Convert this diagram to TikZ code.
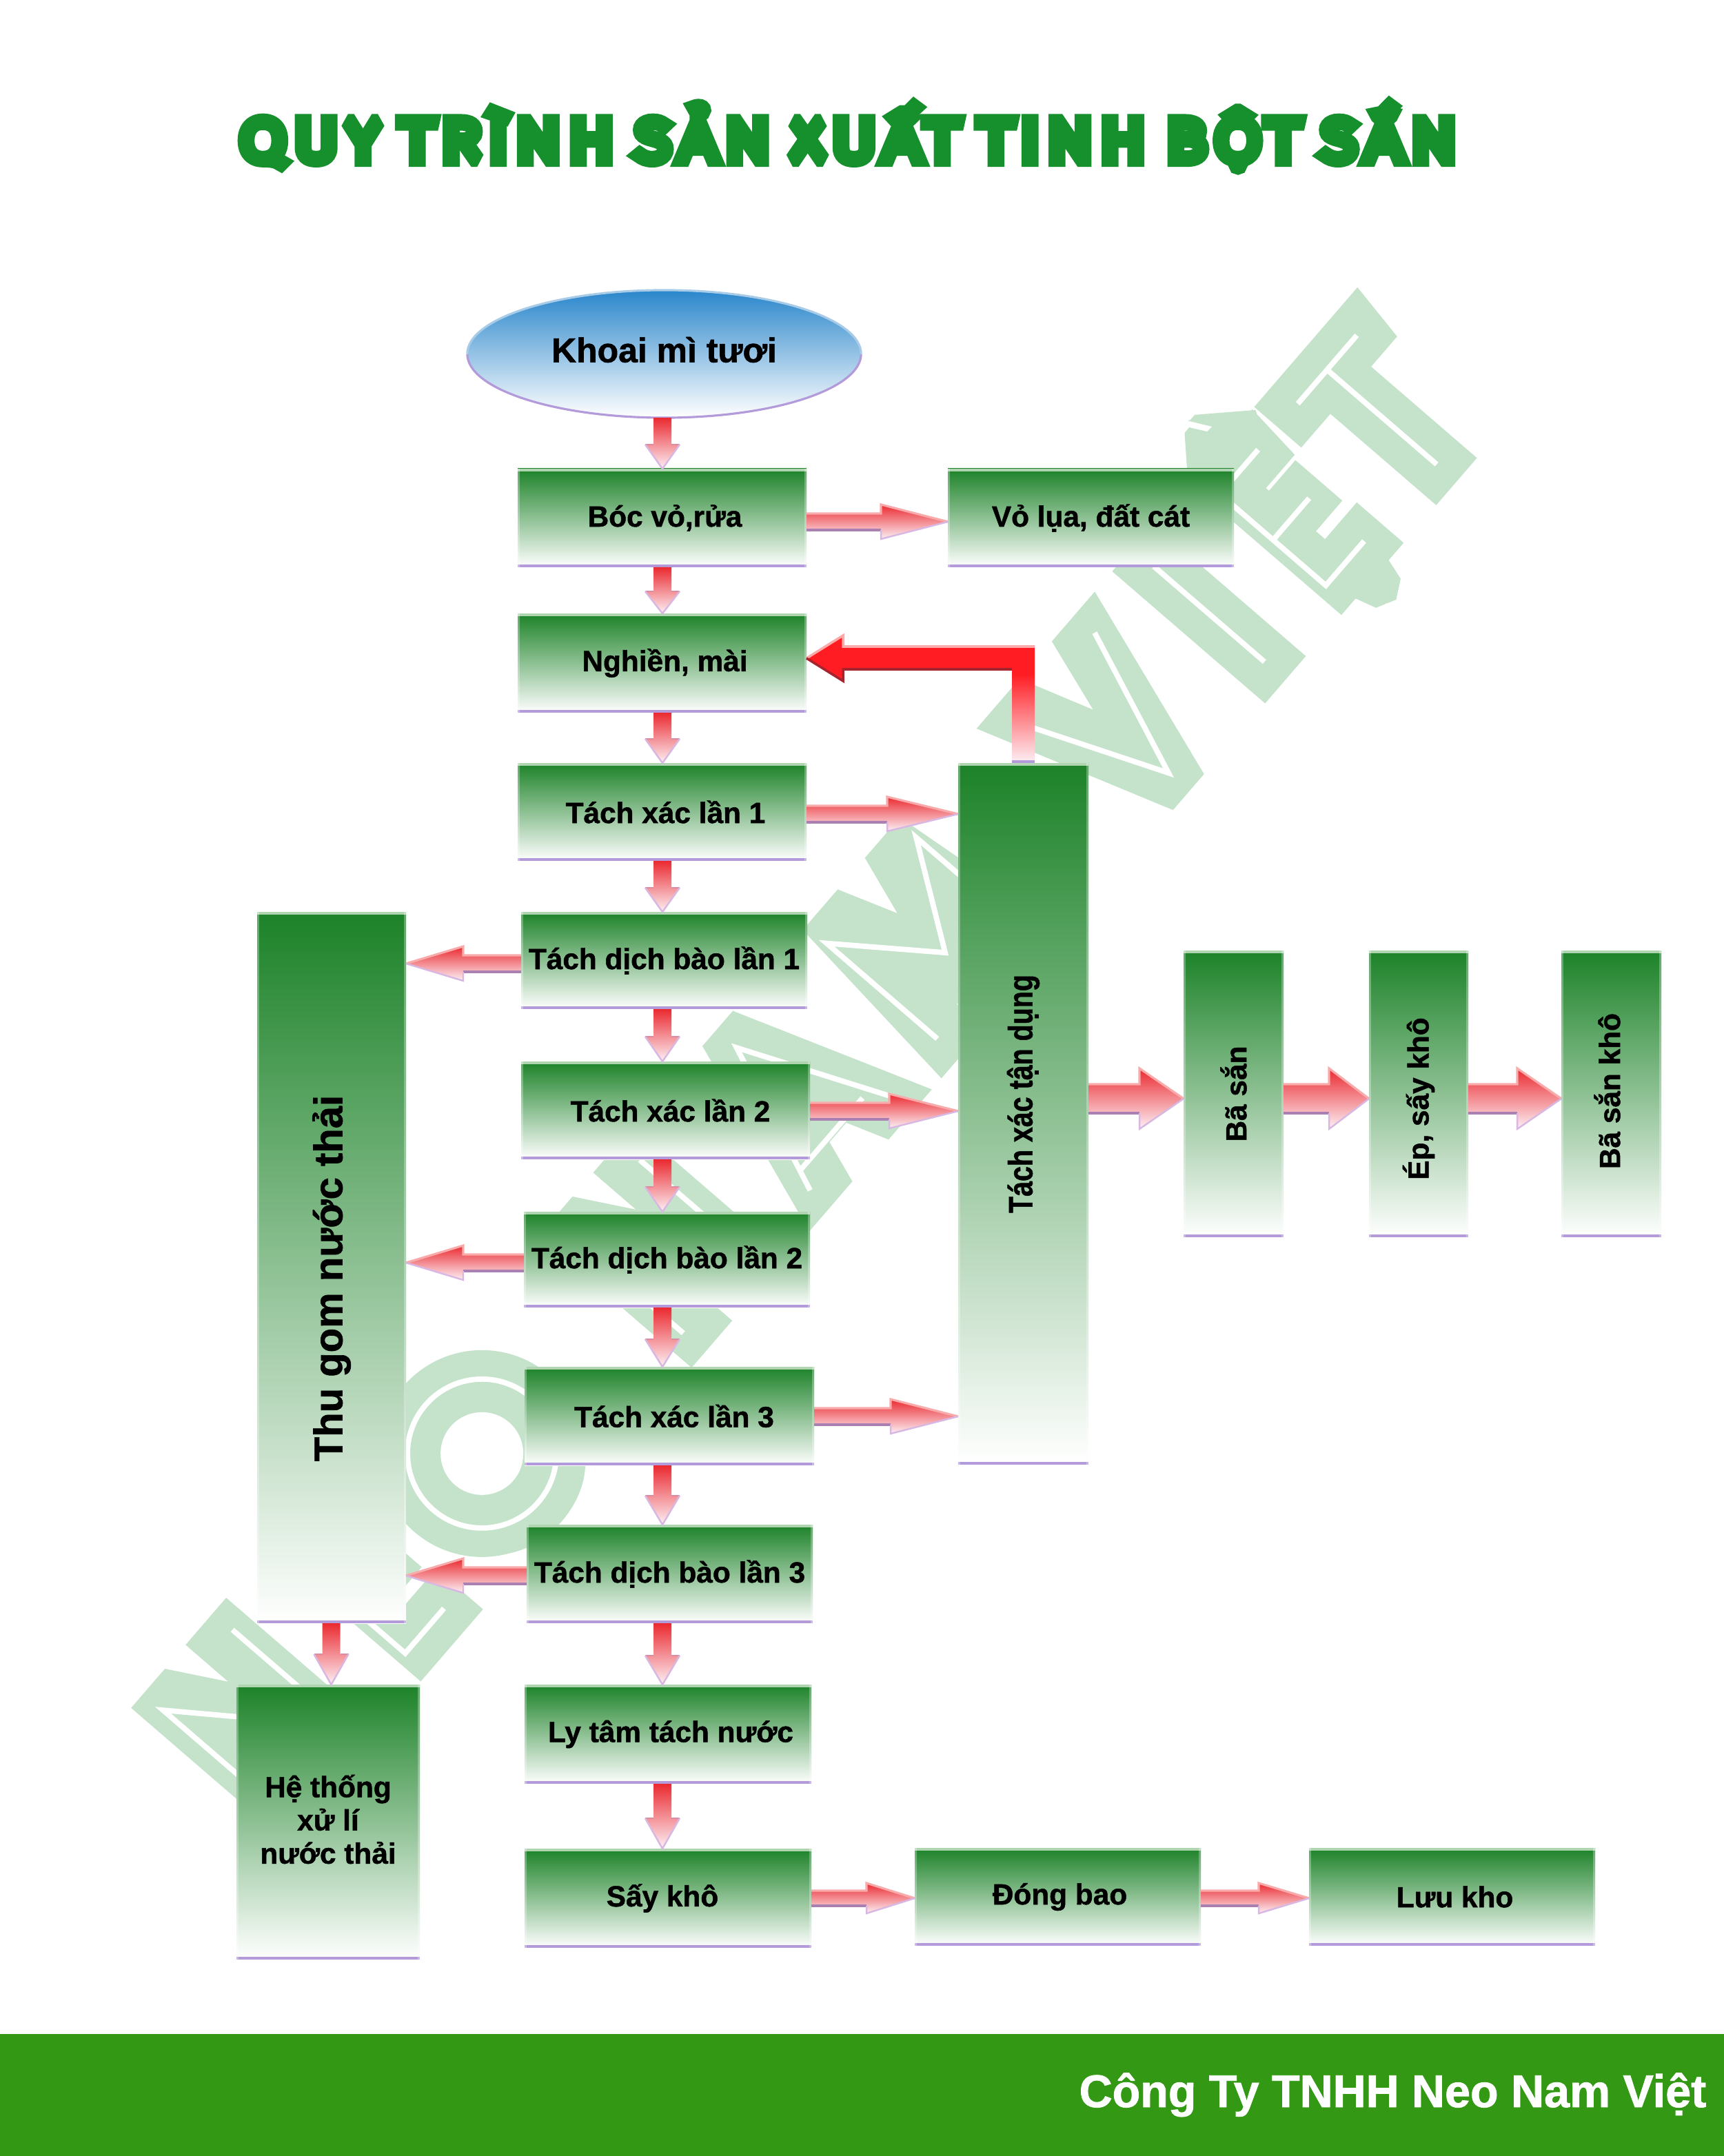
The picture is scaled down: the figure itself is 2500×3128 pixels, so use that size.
\documentclass[tikz,border=0pt]{standalone}
\usepackage{fontspec}
\usetikzlibrary{shapes.geometric}
\setmainfont[BoldFeatures={FakeBold=1.2}]{Liberation Sans}
\newfontfamily\titlefont[FakeBold=28,FakeStretch=1.2,LetterSpace=17,WordSpace=0.77]{Fira Sans Thin}
\newfontfamily\markfont[FakeBold=27]{Fira Sans Thin}
\definecolor{boxtop}{HTML}{1C8228}
\definecolor{boxhi}{HTML}{AFD5B0}
\definecolor{boxlo}{HTML}{B39ADA}
\definecolor{arrowtop}{HTML}{EA2A30}
\definecolor{arrowend}{HTML}{FCF1F6}
\definecolor{arrowhi}{HTML}{F9AAAA}
\definecolor{arrowlo}{HTML}{AA7FB2}
\definecolor{headlo}{HTML}{D8B8E2}
\definecolor{headsh}{HTML}{D98CA2}
\definecolor{bentred}{HTML}{FF1C22}
\definecolor{bentlo}{HTML}{A6242E}
\definecolor{skytop}{HTML}{2A86CB}
\definecolor{skyhi}{HTML}{A8CCE8}
\definecolor{titlegreen}{HTML}{16902C}
\definecolor{markgreen}{HTML}{C5E3CB}
\definecolor{footgreen}{HTML}{339914}
\pgfdeclareverticalshading{bentshade}{100bp}{color(0bp)=(white); color(25bp)=(arrowend); color(60bp)=(bentred); color(100bp)=(bentred)}
\tikzset{
  greenbox/.style={shape=rectangle,inner sep=0pt,outer sep=0pt,top color=boxtop,bottom color=white,
    font=\fontsize{12.05}{13.7}\selectfont\bfseries,align=center,text=black,
    path picture={
      \fill[boxhi] (path picture bounding box.north west) rectangle ([yshift=-1.2pt]path picture bounding box.north east);
      \fill[boxlo] (path picture bounding box.south west) rectangle ([yshift=1.2pt]path picture bounding box.south east);
      \fill[white,opacity=.3] (path picture bounding box.south west) rectangle ([xshift=.9pt]path picture bounding box.north west);
      \fill[white,opacity=.3] (path picture bounding box.south east) rectangle ([xshift=-.9pt]path picture bounding box.north east);
    }},
  flowshade/.style={top color=arrowtop,bottom color=arrowend},
  edgehi/.style={draw=arrowhi,line width=.9pt},
  edgelo/.style={draw=arrowlo,line width=.9pt},
  edgehead/.style={draw=headlo,line width=.7pt},
  edgesh/.style={draw=headsh,line width=.7pt},
  markline/.style={draw=white,line width=2.2pt},
}
\newdimen\wmu \wmu=0.01cm
\newcommand\padtop[2]{\raisebox{0pt}[\dimexpr\height+#1\relax][\depth]{#2}}
\newcommand\padbot[2]{\raisebox{0pt}[\height][\dimexpr\depth+#1\relax]{#2}}
\newcommand\wmark[2]{\makebox[0pt][c]{#1}\hspace*{#2\wmu}}
% box: name, x1, x2, y1, y2, text
\newcommand\flowbox[6]{%
  \pgfmathsetmacro\bcx{(#2+#3)/2}\pgfmathsetmacro\bcy{(#4+#5)/2}%
  \pgfmathsetmacro\bw{#3-#2}\pgfmathsetmacro\bh{#5-#4}%
  \node[greenbox,minimum width=\bw*0.01cm,minimum height=\bh*0.01cm] (#1) at (\bcx,\bcy) {#6};}
% horizontal block arrow: from, to, y, head base x, half shaft, half head
\newcommand\harrow[6]{%
  \pgfmathsetmacro\ya{#3-#5}\pgfmathsetmacro\yb{#3-#6}%
  \pgfmathsetmacro\yc{#3+#5}\pgfmathsetmacro\yd{#3+#6}%
  \shade[flowshade] (#1 |- 0,\ya) -- (#4,\ya) -- (#4,\yb) -- (#2 |- 0,#3) -- (#4,\yd) -- (#4,\yc) -- (#1 |- 0,\yc) -- cycle;
  \draw[edgehi] (#1 |- 0,\ya) -- (#4,\ya) -- (#4,\yb) -- (#2 |- 0,#3);
  \draw[edgelo] (#1 |- 0,\yc) -- (#4,\yc);
  \draw[edgehead] (#4,\yc) -- (#4,\yd) -- (#2 |- 0,#3);}
% vertical block arrow: from, to, x, head base y, half shaft, half head
\newcommand\varrow[6]{%
  \pgfmathsetmacro\xa{#3-#5}\pgfmathsetmacro\xb{#3-#6}%
  \pgfmathsetmacro\xc{#3+#5}\pgfmathsetmacro\xd{#3+#6}%
  \shade[flowshade] (\xa,0 |- #1) -- (\xa,#4) -- (\xb,#4) -- (#3,0 |- #2) -- (\xd,#4) -- (\xc,#4) -- (\xc,0 |- #1) -- cycle;
  \draw[edgesh] (\xa,#4) -- (\xb,#4);
  \draw[edgesh] (\xc,#4) -- (\xd,#4);
  \draw[edgehead] (\xb,#4) -- (#3,0 |- #2) -- (\xd,#4);}
\begin{document}
\begin{tikzpicture}[x=0.01cm,y=-0.01cm]
\useasboundingbox (0,0) rectangle (2500,3128);
\fill[white] (0,0) rectangle (2500,3128);
% watermark, in a frame that runs along the slanted text
\begin{scope}[shift={(184,2490)},x={(0.00653cm,0.00757cm)},y={(0.00757cm,-0.00653cm)}]
\node[rotate=49.2,anchor=base west,inner sep=0pt,text=markgreen,font=\fontsize{87.5}{90}\markfont] (watermark) at (118,248) {\pgfsetmiterlimit{2}\wmark{N}{258}\wmark{\scalebox{.75}[1]{E}}{249}\wmark{\scalebox{1.1}[1]{O}}{398}\wmark{N}{292}\wmark{A}{297}\wmark{M}{409}\wmark{V}{215}\wmark{I}{184}\wmark{\scalebox{.75}[1]{Ệ}}{196}\wmark{T}{0}};
\draw[markgreen,line width=.9cm] (625,141) circle[radius=105];
\fill[white] (625,141) circle[radius=60];
\draw[markline] (41,248) -- (41,34) -- (195,248) -- (195,34);
\draw[markline] (419,36) -- (333,36) -- (333,246) -- (419,246) (333,140) -- (415,140);
\draw[markline] (625,141) circle[radius=108];
\draw[markline] (948,248) -- (948,36) -- (1097,248) -- (1097,36);
\draw[markline] (1225,252) -- (1312,36) -- (1405,252) (1238,222) -- (1376,222);
\draw[markline] (1512,248) -- (1512,36) -- (1614,175) -- (1713,34) -- (1713,248);
\draw[markline] (1935,36) -- (2023,250) -- (2107,36);
\draw[markline] (2236,38) -- (2236,250);
\draw[markline] (2463,42) -- (2378,42) -- (2378,245) -- (2463,245) (2378,144) -- (2458,144);
\draw[markline] (2551,42) -- (2682,42) (2616,42) -- (2616,252);
\end{scope}
\fill[white] (1699,642) -- (1725,611) -- (1758,619) -- (1751,626) -- (1725,620) -- (1706,643) -- (1716,668) -- (1710,673) -- cycle;
\fill[white] (2000,887) -- (2011,875) -- (2016,880) -- (2006,892) -- cycle;
% footer and title
\node[fill=footgreen,inner sep=0pt,outer sep=0pt,minimum width=25cm,minimum height=1.77cm] (footer) at (1250,3039.5) {};
\node[anchor=base east,inner sep=0pt,text=white,font=\fontsize{18.9}{20}\selectfont\bfseries] (company) at (2476,3057) {Công Ty TNHH Neo Nam Việt};
\node[anchor=base,inner sep=0pt,text=titlegreen,font=\fontsize{22.7}{24}\titlefont] (title) at (1230,231) {\pgfsetmiterlimit{2}QUY TRÌNH SẢN XUẤT TINH BỘT SẮN};
% start ellipse
\node[shape=ellipse,inner sep=0pt,outer sep=0pt,top color=skytop,bottom color=white,minimum width=5.71cm,minimum height=1.85cm,font=\fontsize{14.2}{16}\selectfont\bfseries] (start) at (963.5,513.5) {\padbot{.12cm}{Khoai mì tươi}};
\draw[boxlo,line width=.9pt] (start.west) arc[start angle=180,end angle=360,x radius=2.855cm,y radius=.925cm];
\draw[skyhi,line width=.9pt] (start.east) arc[start angle=0,end angle=180,x radius=2.855cm,y radius=.925cm];
% boxes
\flowbox{boc}{751}{1170}{680}{823}{\hspace*{.08cm}Bóc vỏ,rửa}
\flowbox{vo}{1375}{1790}{680}{823}{Vỏ lụa, đất cát}
\flowbox{nghien}{751}{1170}{890}{1034}{\hspace*{.08cm}Nghiền, mài}
\flowbox{xac1}{751}{1170}{1107}{1249}{\hspace*{.1cm}Tách xác lần 1}
\flowbox{dich1}{756}{1171}{1323}{1464}{Tách dịch bào lần 1}
\flowbox{xac2}{756}{1175}{1540}{1682}{\hspace*{.14cm}Tách xác lần 2}
\flowbox{dich2}{760}{1175}{1758}{1897}{Tách dịch bào lần 2}
\flowbox{xac3}{761}{1181}{1983}{2126}{\hspace*{.14cm}Tách xác lần 3}
\flowbox{dich3}{764}{1179}{2212}{2355}{Tách dịch bào lần 3}
\flowbox{lytam}{761}{1177}{2444}{2588}{\hspace*{.08cm}Ly tâm tách nước}
\flowbox{say}{761}{1177}{2682}{2826}{Sấy khô\hspace*{.16cm}}
\flowbox{dong}{1327}{1742}{2681}{2823}{\hspace*{.06cm}Đóng bao}
\flowbox{luu}{1899}{2314}{2681}{2823}{\hspace*{.08cm}Lưu kho}
\flowbox{heth}{343}{609}{2444}{2843}{Hệ thống\\xử lí\\\padbot{.08cm}{nước thải}}
\flowbox{thugom}{373}{589}{1323}{2355}{\padtop{.31cm}{\rotatebox{90}{\fontsize{16.5}{18}\selectfont Thu gom nước thải}}}
\flowbox{tandung}{1390}{1579}{1107}{2125}{\padbot{.58cm}{\rotatebox{90}{\scalebox{.8}[1]{\fontsize{14}{16}\selectfont Tách xác tận dụng}}}}
\flowbox{ba}{1717}{1862}{1379}{1795}{\rotatebox{90}{Bã sắn}}
\flowbox{ep}{1986}{2130}{1379}{1795}{\padtop{.14cm}{\rotatebox{90}{Ép, sấy khô}}}
\flowbox{bakho}{2265}{2410}{1379}{1795}{\padbot{.08cm}{\rotatebox{90}{Bã sắn khô}}\hspace*{.12cm}}
% vertical arrows
\varrow{start.south}{boc.north}{961}{645}{13}{25}
\varrow{boc.south}{nghien.north}{961}{858}{13}{25}
\varrow{nghien.south}{xac1.north}{961}{1072}{13}{25}
\varrow{xac1.south}{dich1.north}{961}{1288}{13}{25}
\varrow{dich1.south}{xac2.north}{961}{1504}{13}{25}
\varrow{xac2.south}{dich2.north}{961}{1722}{13}{25}
\varrow{dich2.south}{xac3.north}{961}{1943}{13}{25}
\varrow{xac3.south}{dich3.north}{961}{2170}{13}{25}
\varrow{dich3.south}{lytam.north}{961}{2402}{13}{25}
\varrow{lytam.south}{say.north}{961}{2638}{13}{25}
\varrow{thugom.south}{heth.north}{480.5}{2400}{13}{25}
% horizontal arrows
\harrow{boc.east}{vo.west}{757}{1278}{12}{25}
\harrow{xac1.east}{tandung.west}{1181}{1287}{12}{25}
\harrow{xac2.east}{tandung.west}{1612}{1290}{12}{25}
\harrow{xac3.east}{tandung.west}{2055}{1292}{12}{25}
\harrow{dich1.west}{thugom.east}{1398}{672}{12}{25}
\harrow{dich2.west}{thugom.east}{1832}{672}{12}{25}
\harrow{dich3.west}{thugom.east}{2286}{672}{12}{25}
\harrow{say.east}{dong.west}{2754}{1257}{11}{22}
\harrow{dong.east}{luu.west}{2754}{1826}{11}{22}
\harrow{tandung.east}{ba.west}{1594}{1653}{21}{44}
\harrow{ba.east}{ep.west}{1594}{1928}{21}{44}
\harrow{ep.east}{bakho.west}{1594}{2201}{21}{44}
% return arrow
\shade[shading=bentshade] (1468,0 |- tandung.north) -- (1468,972) -- (1223,972) -- (1223,988) -- (nghien.east |- 0,955) -- (1223,922) -- (1223,938) -- (1501,938) -- (1501,0 |- tandung.north) -- cycle;
\draw[draw=arrowhi,line width=1pt] (nghien.east |- 0,955) -- (1223,922) -- (1223,938) -- (1501,938);
\draw[draw=bentlo,line width=1pt] (1468,971) -- (1223,971) -- (1223,988) -- (nghien.east |- 0,955);
\fill[boxlo] (1468,1103) rectangle (1501,1107);
\end{tikzpicture}
\end{document}
